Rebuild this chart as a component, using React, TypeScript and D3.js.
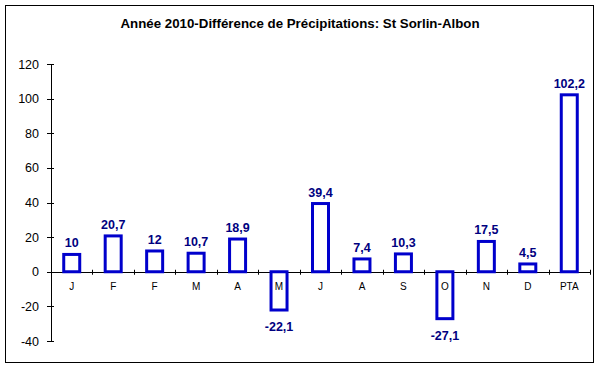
import React from "react";
import * as d3 from "d3";

const categories = ["J", "F", "F", "M", "A", "M", "J", "A", "S", "O", "N", "D", "PTA"];
const values = [10, 20.7, 12, 10.7, 18.9, -22.1, 39.4, 7.4, 10.3, -27.1, 17.5, 4.5, 102.2];
const yTicks = [-40, -20, 0, 20, 40, 60, 80, 100, 120];
const title = "Année 2010-Différence de Précipitations: St Sorlin-Albon";

const W = 600;
const H = 368;
const FONT = "'Liberation Sans', Arial, sans-serif";
const BAR = "#0000cc";
const LABEL = "#000080";

export default function App() {
  const x0 = 51;
  const x1 = 590;
  const y = d3.scaleLinear().domain([-40, 120]).range([341, 64]);
  const idx = categories.map((_, i) => i);
  const x = d3.scaleBand<number>().domain(idx).range([x0, x1]).paddingInner(0).paddingOuter(0);
  const bw = 16;
  const fmt = (v: number) => String(v).replace(".", ",");
  const zero = y(0);

  return (
    <svg
      width={W}
      height={H}
      style={{ position: "absolute", left: 0, top: 0, background: "#fff" }}
      fontFamily={FONT}
    >
      <rect x={0} y={0} width={W} height={H} fill="#fff" />
      <rect x={5.5} y={5.5} width={588} height={357} fill="none" stroke="#000" strokeWidth={1} />
      <text x={300} y={28} textAnchor="middle" fontSize={13.3} fontWeight="bold" fill="#000">
        {title}
      </text>

      {/* Y axis */}
      <line x1={x0 + 0.5} x2={x0 + 0.5} y1={y(120)} y2={y(-40)} stroke="#000" strokeWidth={1} />
      {yTicks.map((t) => (
        <g key={t}>
          <line x1={x0 - 4} x2={x0 + 3} y1={Math.round(y(t)) + 0.5} y2={Math.round(y(t)) + 0.5} stroke="#000" />
          <text x={39} y={y(t) + 4.5} textAnchor="end" fontSize={12.5} fill="#000">
            {t}
          </text>
        </g>
      ))}

      {/* X axis */}
      <line x1={x0} x2={x1} y1={Math.round(zero) + 0.5} y2={Math.round(zero) + 0.5} stroke="#000" />
      {idx.map((i) => {
        const xt = Math.round((x(i) as number) + x.bandwidth()) + 0.5;
        return <line key={"t" + i} x1={xt} x2={xt} y1={zero - 2} y2={zero + 3} stroke="#000" />;
      })}

      {/* Bars */}
      {values.map((v, i) => {
        const cx = (x(i) as number) + x.bandwidth() / 2;
        const top = Math.min(y(v), zero);
        const h = Math.abs(y(v) - zero);
        return (
          <g key={"b" + i}>
            <rect
              x={cx - bw / 2}
              y={top}
              width={bw}
              height={h}
              fill="#fff"
              stroke={BAR}
              strokeWidth={3}
            />
            <text
              x={cx}
              y={v >= 0 ? y(v) - 7 : y(v) + 21}
              textAnchor="middle"
              fontSize={12.5}
              fontWeight="bold"
              fill={LABEL}
            >
              {fmt(v)}
            </text>
            <text x={cx} y={zero + 18} textAnchor="middle" fontSize={10} fill="#000">
              {categories[i]}
            </text>
          </g>
        );
      })}
    </svg>
  );
}
